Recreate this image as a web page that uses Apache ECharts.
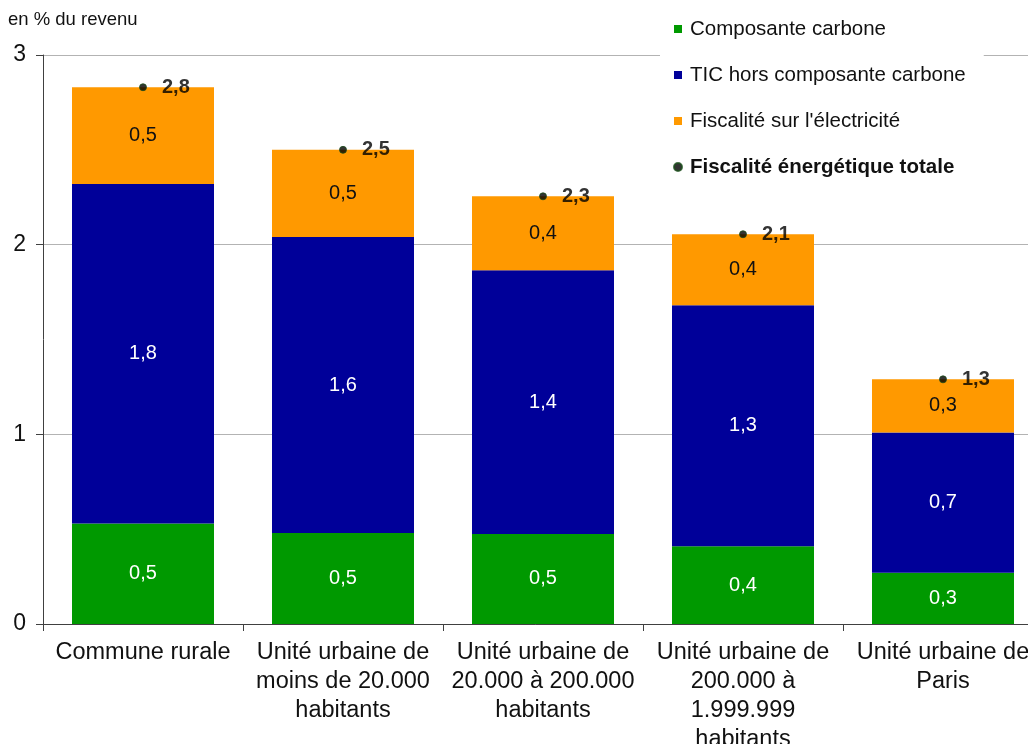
<!DOCTYPE html>
<html>
<head>
<meta charset="utf-8">
<script src="https://cdn.jsdelivr.net/npm/echarts@6/dist/echarts.min.js"></script>
<style>html,body{margin:0;padding:0;background:#fff}#c{width:1028px;height:744px}</style>
</head>
<body>
<div id="c"></div>
<script>
const categories = [
  "Commune rurale",
  "Unité urbaine de\nmoins de 20.000\nhabitants",
  "Unité urbaine de\n20.000 à 200.000\nhabitants",
  "Unité urbaine de\n200.000 à\n1.999.999\nhabitants",
  "Unité urbaine de\nParis"
];
const carbone = [0.53, 0.48, 0.475, 0.41, 0.27];
const ticHors = [1.79, 1.56, 1.39, 1.27, 0.74];
const electricite = [0.51, 0.46, 0.39, 0.375, 0.28];
const seriesNames = ["Composante carbone", "TIC hors composante carbone", "Fiscalité sur l'électricité", "Fiscalité énergétique totale"];
const yTicks = [0, 1, 2, 3];

const totals = carbone.map((v, i) => v + ticHors[i] + electricite[i]);
const fmt = v => v.toFixed(1).replace('.', ',');
const FONT = '"Liberation Sans", Arial, sans-serif';

const chart = echarts.init(document.getElementById('c'), null, {renderer: 'canvas'});

function barSeries(name, data, color, labelColor) {
  return {
    name, type: 'bar', stack: 'tot', data, barWidth: 142,
    itemStyle: {color},
    label: {show: true, position: 'inside', color: labelColor, fontFamily: FONT, fontSize: 20,
      formatter: p => fmt(p.value)},
    emphasis: {disabled: true}
  };
}

chart.setOption({
  animation: false,
  textStyle: {fontFamily: FONT},
  title: {text: 'en % du revenu', left: 3, top: 5,
    textStyle: {fontFamily: FONT, fontSize: 18.5, fontWeight: 'normal', color: '#111'}},
  grid: {left: 43, right: -15, top: 55, bottom: 120, containLabel: false, outerBoundsMode: 'none'},
  legend: {
    orient: 'vertical', left: 660, top: 8,
    padding: [10, 18, 10, 13],
    backgroundColor: '#fff',
    itemWidth: 8, itemHeight: 8, itemGap: 24,
    textStyle: {fontFamily: FONT, fontSize: 20.5, color: '#111', lineHeight: 22, padding: [0, 0, 0, 3]},
    data: [
      {name: seriesNames[0], icon: 'rect'},
      {name: seriesNames[1], icon: 'rect'},
      {name: seriesNames[2], icon: 'rect'},
      {name: seriesNames[3], icon: 'circle', textStyle: {fontWeight: 'bold'}}
    ]
  },
  xAxis: {
    type: 'category', data: categories,
    axisLine: {lineStyle: {color: '#404040', width: 1}},
    axisTick: {show: true, length: 7, alignWithLabel: false, interval: 0, lineStyle: {color: '#404040'}},
    axisLabel: {interval: 0, margin: 14, fontFamily: FONT, fontSize: 23.5, lineHeight: 29, color: '#111'}
  },
  yAxis: {
    type: 'value', min: yTicks[0], max: yTicks[yTicks.length - 1], interval: 1,
    axisLine: {show: true, lineStyle: {color: '#404040', width: 1}},
    axisTick: {show: true, length: 7, lineStyle: {color: '#404040'}},
    axisLabel: {margin: 17, fontFamily: FONT, fontSize: 23, color: '#111'},
    splitLine: {show: true, lineStyle: {color: '#b3b3b3', width: 1}}
  },
  series: [
    barSeries(seriesNames[0], carbone, '#009900', '#ffffff'),
    barSeries(seriesNames[1], ticHors, '#000099', '#ffffff'),
    barSeries(seriesNames[2], electricite, '#ff9900', '#111111'),
    {
      name: seriesNames[3], type: 'scatter', data: totals, z: 5,
      symbol: 'circle', symbolSize: 7,
      itemStyle: {color: '#000', borderColor: '#1a4d1a', borderWidth: 1},
      label: {show: true, position: 'right', distance: 15, fontFamily: FONT, fontSize: 20,
        fontWeight: 'bold', color: '#000', formatter: p => fmt(p.value)},
      emphasis: {disabled: true}
    }
  ]
});
</script>
</body>
</html>
